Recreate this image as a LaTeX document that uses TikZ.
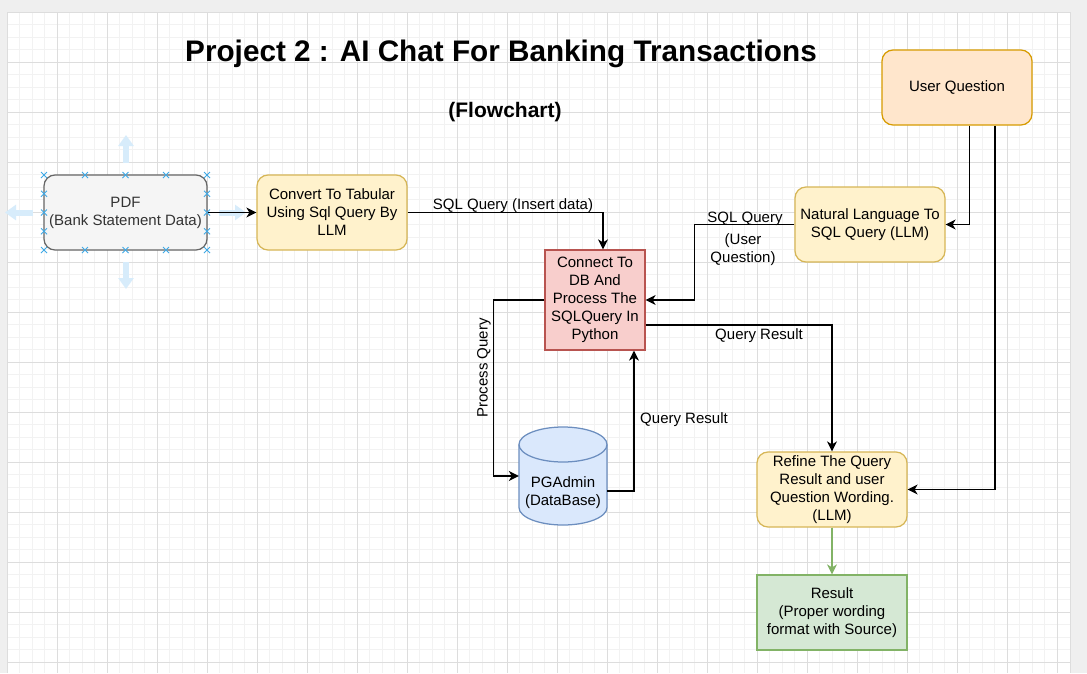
\documentclass[tikz,border=0pt]{standalone}
\usepackage{fontspec}
\setmainfont{Liberation Sans}
\usetikzlibrary{arrows.meta,calc}
\definecolor{pdffill}{HTML}{F5F5F5}
\definecolor{pdfdraw}{HTML}{666666}
\definecolor{pdftext}{HTML}{333333}
\definecolor{yfill}{HTML}{FFF2CC}
\definecolor{ydraw}{HTML}{D6B656}
\definecolor{ofill}{HTML}{FFE6CC}
\definecolor{odraw}{HTML}{D79B00}
\definecolor{rfill}{HTML}{F8CECC}
\definecolor{rdraw}{HTML}{B85450}
\definecolor{bfill}{HTML}{DAE8FC}
\definecolor{bdraw}{HTML}{6C8EBF}
\definecolor{gfill}{HTML}{D5E8D4}
\definecolor{gdraw}{HTML}{82B366}
\definecolor{outside}{HTML}{EFEFEF}
\definecolor{gridminor}{HTML}{F2F2F2}
\definecolor{gridmajor}{HTML}{DDDDDD}
\definecolor{selblue}{HTML}{3FA9E6}
\definecolor{hoverblue}{HTML}{D7ECFB}
\tikzset{
  txt/.style={font=\fontsize{15}{18}\selectfont, align=center},
  box/.style={txt, draw, line width=1.25pt, minimum width=150pt, minimum height=75pt, inner sep=2pt},
  rbox/.style={box, rounded corners=11pt},
  edge/.style={draw=black, line width=1.3pt, -{Stealth[length=10pt, width=10pt, inset=3pt]}},
  lbl/.style={txt, inner sep=0pt},
  selx/.style={draw=selblue, line width=1pt},
  hover/.style={draw=hoverblue, line width=6pt, -{Triangle[width=15pt, length=11pt]}},
}
\begin{document}
\begin{tikzpicture}[x=1pt, y=-1pt]
\useasboundingbox (0,0) rectangle (1087,673);
% canvas
\fill[outside] (0,0) rectangle (1087,673);
\fill[white] (7,12) rectangle (1070,673);
\foreach \i in {0,...,84} \draw[gridminor, line width=0.8pt] ({7+12.5*\i},12) -- ({7+12.5*\i},673);
\foreach \i in {0,...,52} \draw[gridminor, line width=0.8pt] (7,{12+12.5*\i}) -- (1070,{12+12.5*\i});
\foreach \i in {1,...,21} \draw[gridmajor, line width=0.9pt] ({7+50*\i},12) -- ({7+50*\i},673);
\foreach \i in {1,...,13} \draw[gridmajor, line width=0.9pt] (7,{12+50*\i}) -- (1070,{12+50*\i});
\draw[gridmajor, line width=1pt] (7,673) -- (7,12) -- (1070,12) -- (1070,673);

% titles
\node[font=\fontsize{29.7}{36}\selectfont\bfseries, inner sep=0pt] (title) at (501,53.5) {Project 2 : AI Chat For Banking Transactions};
\node[font=\fontsize{21}{25}\selectfont\bfseries, inner sep=0pt] (sub) at (505,112) {(Flowchart)};

% hover arrows around selected node
\draw[hover] (126,163) -- (126,135);
\draw[hover] (126,262) -- (126,289);
\draw[hover] (33,212.5) -- (5,212.5);
\draw[hover] (219,212.5) -- (246,212.5);

% nodes
\node[rbox, fill=pdffill, draw=pdfdraw, text=pdftext, minimum width=163pt] (pdf) at (125.5,212.5) {PDF\\(Bank Statement Data)};
\node[rbox, fill=yfill, draw=ydraw] (conv) at (332,212.5) {Convert To Tabular\\Using Sql Query By\\LLM};
\node[rbox, fill=ofill, draw=odraw] (uq) at (957,87.5) {User Question};
\node[rbox, fill=yfill, draw=ydraw] (nl) at (870,224.5) {Natural Language To\\SQL Query (LLM)};
\node[box, fill=rfill, draw=rdraw, minimum width=100pt, minimum height=100pt] (conn) at (595,300) {Connect To\\DB And\\Process The\\SQLQuery In\\Python};
\node[rbox, fill=yfill, draw=ydraw] (ref) at (832,489.5) {Refine The Query\\Result and user\\Question Wording.\\(LLM)};
\node[box, fill=gfill, draw=gdraw] (res) at (832,612.5) {Result\\(Proper wording\\format with Source)};

% database cylinder
\path[fill=bfill, draw=bdraw, line width=1.25pt]
  (519,444.5) -- (519,507.5) arc[start angle=180, end angle=0, x radius=44, y radius=17.5]
  -- (607,444.5) arc[start angle=0, end angle=-180, x radius=44, y radius=17.5] -- cycle;
\draw[bdraw, line width=1.25pt] (519,444.5) arc[start angle=180, end angle=0, x radius=44, y radius=17.5];
\node[txt, minimum width=88pt, minimum height=98pt, inner sep=0pt] (db) at (563,476) {};
\node[txt, inner sep=0pt] (dblabel) at (563,493) {PGAdmin\\(DataBase)};

% selection markers on the PDF node
\foreach \px in {44,85,125.5,166,207} {
  \foreach \py in {175,250} {
    \draw[selx] (\px-3,\py-3) -- (\px+3,\py+3) (\px-3,\py+3) -- (\px+3,\py-3);
  }
}
\foreach \px in {44,207} {
  \foreach \py in {193.75,212.5,231.25} {
    \draw[selx] (\px-3,\py-3) -- (\px+3,\py+3) (\px-3,\py+3) -- (\px+3,\py-3);
  }
}

% connectors
\draw[edge] (pdf.east) -- (conv.west);
\draw[edge] (conv.east) -| ([xshift=8pt]conn.north);
\draw[edge] (nl.west) -- ([xshift=-100pt]nl.west) |- (conn.east);
\draw[edge] ([xshift=12.5pt]uq.south) |- (nl.east);
\draw[edge] ([xshift=38pt]uq.south) |- (ref.east);
\draw[edge] ([yshift=-25pt]conn.east) -| (ref.north);
\draw[edge] (conn.west) -- ([xshift=-51pt]conn.west) |- (db.west);
\draw[edge] ([yshift=-15pt]db.east) -| ([xshift=39pt]conn.south);
\draw[edge, draw=gdraw, color=gdraw] (ref.south) -- (res.north);

% connector labels
\node[lbl] (l1) at (513,206) {SQL Query (Insert data)};
\node[lbl] (l2) at (745,219) {SQL Query};
\node[lbl] (l3) at (743,250) {(User\\Question)};
\node[lbl] (l4) at (759,336) {Query Result};
\node[lbl, rotate=90] (l5) at (484,368) {Process Query};
\node[lbl] (l6) at (684,420) {Query Result};
\end{tikzpicture}
\end{document}
